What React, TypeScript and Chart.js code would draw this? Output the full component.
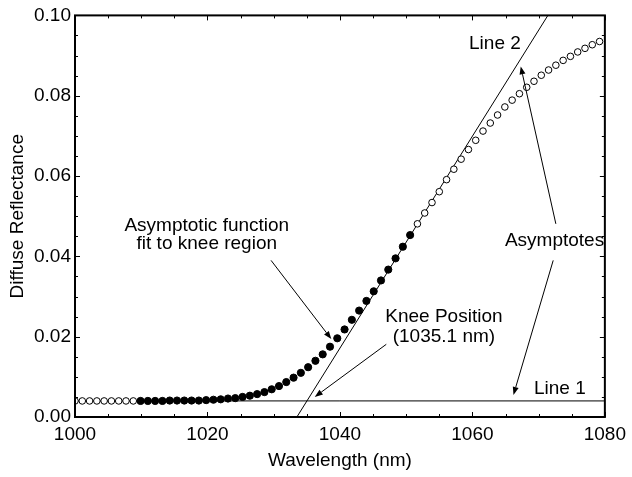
import React, { useEffect, useRef } from "react";
import { Chart, registerables } from "chart.js";

Chart.register(...registerables);

// ---- data ----
const openLeftWavelength = [1000.0, 1001.1, 1002.2, 1003.3, 1004.4, 1005.5, 1006.6, 1007.7, 1008.8];
const openLeftReflectance = [0.004, 0.004, 0.004, 0.004, 0.004, 0.004, 0.004, 0.004, 0.004];

const fitWavelength = [
  1009.9, 1011.0, 1012.1, 1013.2, 1014.3, 1015.4, 1016.5, 1017.6, 1018.7, 1019.8,
  1020.9, 1022.0, 1023.1, 1024.2, 1025.3, 1026.4, 1027.5, 1028.6, 1029.7, 1030.8,
  1031.9, 1033.0, 1034.1, 1035.2, 1036.3, 1037.4, 1038.5, 1039.6, 1040.7, 1041.8,
  1042.9, 1044.0, 1045.1, 1046.2, 1047.3, 1048.4, 1049.5, 1050.6,
];
const fitReflectance = [
  0.0040, 0.0040, 0.0040, 0.0040, 0.0041, 0.0041, 0.0041, 0.0041, 0.0041, 0.0042,
  0.0043, 0.0044, 0.0046, 0.0047, 0.0050, 0.0053, 0.0057, 0.0062, 0.0069, 0.0077,
  0.0087, 0.0098, 0.0110, 0.0124, 0.0140, 0.0156, 0.0175, 0.0196, 0.0218, 0.0242,
  0.0265, 0.0289, 0.0313, 0.0340, 0.0367, 0.0395, 0.0424, 0.0453,
];

const openRightWavelength = [
  1051.7, 1052.8, 1053.9, 1055.0, 1056.1, 1057.2, 1058.3, 1059.4, 1060.5, 1061.6,
  1062.7, 1063.8, 1064.9, 1066.0, 1067.1, 1068.2, 1069.3, 1070.4, 1071.5, 1072.6,
  1073.7, 1074.8, 1075.9, 1077.0, 1078.1, 1079.2,
];
const openRightReflectance = [
  0.0481, 0.0508, 0.0534, 0.0561, 0.0591, 0.0617, 0.0642, 0.0666, 0.0689, 0.0712,
  0.0732, 0.0752, 0.0772, 0.0789, 0.0805, 0.0821, 0.0836, 0.0851, 0.0864, 0.0876,
  0.0888, 0.0898, 0.0909, 0.0918, 0.0927, 0.0935,
];

const line1Wavelength = [1000, 1080];
const line1Reflectance = [0.004, 0.004];
const line2Wavelength = [1033.5, 1071.4];
const line2Reflectance = [0.0, 0.1];

const xTickValues = [1000, 1020, 1040, 1060, 1080];
const yTickValues = [0.0, 0.02, 0.04, 0.06, 0.08, 0.1];

// ---- annotations (data coordinates) ----
const labelTexts = ["Line 2", "Line 1", "Knee Position", "(1035.1 nm)", "Asymptotes", "Asymptotic function", "fit to knee region"];
const labelX = [1063.4, 1073.2, 1055.7, 1055.7, 1072.4, 1019.9, 1019.9];
const labelY = [0.0929, 0.0070, 0.0249, 0.0201, 0.0439, 0.0475, 0.0431];

const arrowFromX = [1029.6, 1047.0, 1072.6, 1072.2];
const arrowFromY = [0.0390, 0.0181, 0.0481, 0.0390];
const arrowToX = [1038.7, 1036.2, 1067.3, 1066.2];
const arrowToY = [0.0194, 0.0050, 0.0873, 0.0055];

const FONT = "'Liberation Sans', Arial, Helvetica, sans-serif";

const pts = (xs: number[], ys: number[]) => xs.map((x, i) => ({ x, y: ys[i] }));

const overlayPlugin = {
  id: "overlay",
  afterDraw(chart: any) {
    const { ctx, chartArea: a, scales } = chart;
    const xs = scales.x;
    const ys = scales.y;
    ctx.save();
    ctx.strokeStyle = "#000";
    ctx.fillStyle = "#000";
    ctx.lineWidth = 1;
    const seg = (x1: number, y1: number, x2: number, y2: number) => {
      ctx.beginPath();
      ctx.moveTo(x1, y1);
      ctx.lineTo(x2, y2);
      ctx.stroke();
    };
    // x ticks (inward, top and bottom)
    for (let v = 1000; v <= 1080; v += 5) {
      const px = Math.round(xs.getPixelForValue(v)) + 0.5;
      const len = v % 20 === 0 ? 5 : 3;
      seg(px, a.bottom, px, a.bottom - len);
      seg(px, a.top, px, a.top + len);
    }
    // y ticks (inward, left and right)
    for (let i = 0; i <= 20; i++) {
      const py = Math.round(ys.getPixelForValue(i * 0.005)) + 0.5;
      const len = i % 4 === 0 ? 5 : 3;
      seg(a.left, py, a.left + len, py);
      seg(a.right, py, a.right - len, py);
    }
    // frame
    ctx.lineWidth = 2;
    ctx.strokeRect(a.left, a.top, a.right - a.left, a.bottom - a.top);

    // arrows
    ctx.lineWidth = 1;
    for (let i = 0; i < arrowFromX.length; i++) {
      const x1 = xs.getPixelForValue(arrowFromX[i]);
      const y1 = ys.getPixelForValue(arrowFromY[i]);
      const x2 = xs.getPixelForValue(arrowToX[i]);
      const y2 = ys.getPixelForValue(arrowToY[i]);
      const ang = Math.atan2(y2 - y1, x2 - x1);
      const hl = 8;
      const hw = 3;
      const bx = x2 - hl * Math.cos(ang);
      const by = y2 - hl * Math.sin(ang);
      seg(x1, y1, bx, by);
      ctx.beginPath();
      ctx.moveTo(x2, y2);
      ctx.lineTo(bx + hw * Math.sin(ang), by - hw * Math.cos(ang));
      ctx.lineTo(bx - hw * Math.sin(ang), by + hw * Math.cos(ang));
      ctx.closePath();
      ctx.fill();
    }

    // labels
    ctx.font = `19px ${FONT}`;
    ctx.textAlign = "center";
    ctx.textBaseline = "middle";
    for (let i = 0; i < labelTexts.length; i++) {
      ctx.fillText(labelTexts[i], xs.getPixelForValue(labelX[i]), ys.getPixelForValue(labelY[i]));
    }
    ctx.restore();
  },
};

export default function App() {
  const canvasRef = useRef<HTMLCanvasElement | null>(null);

  useEffect(() => {
    if (!canvasRef.current) return;
    const chart = new Chart(canvasRef.current, {
      type: "scatter",
      data: {
        datasets: [
          {
            label: "Open (left)",
            data: pts(openLeftWavelength, openLeftReflectance),
            pointRadius: 3.3,
            pointBackgroundColor: "#fff",
            pointBorderColor: "#000",
            pointBorderWidth: 1,
            showLine: false,
          },
          {
            label: "Fit region",
            data: pts(fitWavelength, fitReflectance),
            pointRadius: 3.6,
            pointBackgroundColor: "#000",
            pointBorderColor: "#000",
            pointBorderWidth: 1,
            showLine: false,
          },
          {
            label: "Open (right)",
            data: pts(openRightWavelength, openRightReflectance),
            pointRadius: 3.3,
            pointBackgroundColor: "#fff",
            pointBorderColor: "#000",
            pointBorderWidth: 1,
            showLine: false,
          },
          {
            label: "Line 1",
            data: pts(line1Wavelength, line1Reflectance),
            showLine: true,
            pointRadius: 0,
            borderColor: "#000",
            borderWidth: 1,
          },
          {
            label: "Line 2",
            data: pts(line2Wavelength, line2Reflectance),
            showLine: true,
            pointRadius: 0,
            borderColor: "#000",
            borderWidth: 1,
          },
        ],
      },
      options: {
        animation: false,
        responsive: true,
        maintainAspectRatio: false,
        layout: { padding: { top: 14, right: 22, bottom: 0, left: 0 } },
        plugins: { legend: { display: false }, tooltip: { enabled: false } },
        scales: {
          x: {
            type: "linear",
            min: 1000,
            max: 1080,
            grid: { display: false, drawTicks: false },
            border: { display: false },
            afterBuildTicks: (s: any) => {
              s.ticks = xTickValues.map((v) => ({ value: v }));
            },
            afterFit: (s: any) => {
              s.height = 60;
            },
            ticks: {
              color: "#000",
              font: { family: FONT, size: 19 },
              padding: 6,
              maxRotation: 0,
              callback: (v: any) => String(v),
            },
            title: {
              display: true,
              text: "Wavelength (nm)",
              color: "#000",
              font: { family: FONT, size: 19 },
              padding: { top: 0, bottom: 5 },
            },
          },
          y: {
            type: "linear",
            min: 0,
            max: 0.1,
            grid: { display: false, drawTicks: false },
            border: { display: false },
            afterBuildTicks: (s: any) => {
              s.ticks = yTickValues.map((v) => ({ value: v }));
            },
            afterFit: (s: any) => {
              s.width = 75;
            },
            ticks: {
              color: "#000",
              font: { family: FONT, size: 19 },
              padding: 4,
              callback: (v: any) => Number(v).toFixed(2),
            },
            title: {
              display: true,
              text: "Diffuse Reflectance",
              color: "#000",
              font: { family: FONT, size: 19 },
              padding: { top: 6, bottom: 0 },
            },
          },
        },
      },
      plugins: [overlayPlugin],
    });
    return () => chart.destroy();
  }, []);

  return (
    <div style={{ position: "fixed", left: 0, top: 0, width: 632, height: 477, background: "#fff" }}>
      <canvas ref={canvasRef} />
    </div>
  );
}
